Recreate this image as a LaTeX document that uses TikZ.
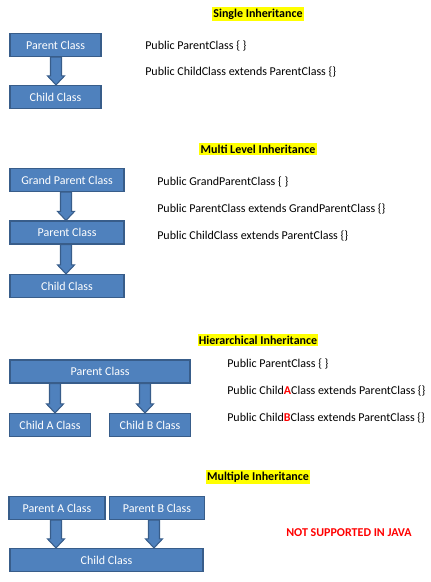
\documentclass[tikz,border=0pt]{standalone}
\usepackage{fontspec}
\setmainfont{Carlito}
\usetikzlibrary{calc}
\definecolor{boxfill}{HTML}{4F81BD}
\definecolor{boxline}{HTML}{385D8A}
\definecolor{hl}{HTML}{FFFF00}
\definecolor{codered}{HTML}{FF0000}
\tikzset{
  x=0.75pt, y=-0.75pt,
  cls/.style={draw=boxline, line width=1.1pt, fill=boxfill, text=white,
    font=\fontsize{9}{10}\selectfont, minimum height=17pt, inner sep=0pt},
  title/.style={fill=hl, font=\fontsize{9}{10}\selectfont\bfseries, inner xsep=1pt, inner ysep=1.5pt},
  code/.style={anchor=west, font=\fontsize{9}{10}\selectfont, inner sep=0pt},
  blk/.style={draw=boxline, line width=0.8pt, fill=boxfill, line join=miter},
  warn/.style={text=codered, font=\fontsize{9}{10}\selectfont\bfseries, inner sep=0pt}
}
% #1 x-coordinate name, #2 upper node, #3 lower node
\newcommand\blockarr[3]{%
  \draw[blk] ($(#2.south -| #1)+(-5.5,0)$) -- ($(#2.south -| #1)+(5.5,0)$)
    -- ($(#3.north -| #1)+(5.5,-9)$) -- ($(#3.north -| #1)+(8.5,-9)$)
    -- (#3.north -| #1) -- ($(#3.north -| #1)+(-8.5,-9)$)
    -- ($(#3.north -| #1)+(-5.5,-9)$) -- cycle;}
\begin{document}
\begin{tikzpicture}
\useasboundingbox (0,0) rectangle (431,582);

% Single
\node[title] (t1) at (258,14) {Single Inheritance};
\node[cls, minimum width=68.25pt] (p1) at (55.5,45) {Parent Class};
\node[cls, minimum width=68.25pt] (c1) at (55.5,97) {Child Class};
\coordinate (x1) at (56,0);
\blockarr{x1}{p1}{c1}
\node[code] (s1a) at (145,46) {Public ParentClass \{ \}};
\node[code] (s1b) at (145,72) {Public ChildClass extends ParentClass \{\}};

% Multi level
\node[title] (t2) at (258,149) {Multi Level Inheritance};
\node[cls, minimum width=85.5pt] (g2) at (67,180) {Grand Parent Class};
\node[cls, minimum width=85.5pt] (p2) at (67,232.5) {Parent Class};
\node[cls, minimum width=85.5pt] (c2) at (67,286) {Child Class};
\coordinate (x2) at (66,0);
\blockarr{x2}{g2}{p2}
\blockarr{x2}{p2}{c2}
\node[code] (s2a) at (157,182) {Public GrandParentClass \{ \}};
\node[code] (s2b) at (157,209) {Public ParentClass extends GrandParentClass \{\}};
\node[code] (s2c) at (157,236) {Public ChildClass extends ParentClass \{\}};

% Hierarchical
\node[title] (t3) at (258,340) {Hierarchical Inheritance};
\node[cls, minimum width=135pt] (p3) at (100,371.5) {Parent Class};
\node[cls, minimum width=60.75pt] (ca) at (50,425) {Child A Class};
\node[cls, minimum width=60.75pt] (cb) at (150,425) {Child B Class};
\coordinate (x3a) at (55,0);
\coordinate (x3b) at (145,0);
\blockarr{x3a}{p3}{ca}
\blockarr{x3b}{p3}{cb}
\node[code] (s3a) at (227,364) {Public ParentClass \{ \}};
\node[code] (s3b) at (227,391) {Public Child{\color{codered}\bfseries A}Class extends ParentClass \{\}};
\node[code] (s3c) at (227,418) {Public Child{\color{codered}\bfseries B}Class extends ParentClass \{\}};

% Multiple
\node[title] (t4) at (258,477) {Multiple Inheritance};
\node[cls, minimum width=72pt] (pa) at (57,508) {Parent A Class};
\node[cls, minimum width=71.25pt] (pb) at (157,508) {Parent B Class};
\node[cls, minimum width=144.75pt] (ch) at (106.5,560) {Child Class};
\coordinate (x4a) at (56,0);
\coordinate (x4b) at (154,0);
\blockarr{x4a}{pa}{ch}
\blockarr{x4b}{pb}{ch}
\node[warn] (ns) at (349,533) {NOT SUPPORTED IN JAVA};
\end{tikzpicture}
\end{document}
